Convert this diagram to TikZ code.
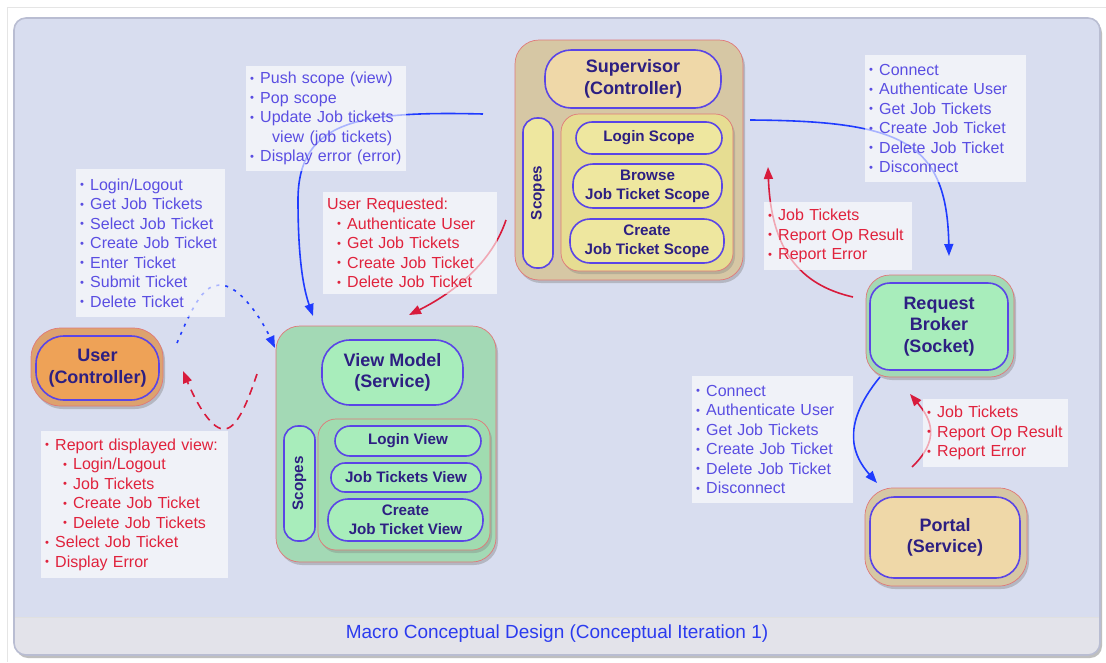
\documentclass[tikz,border=0pt]{standalone}
\usepackage{fontspec}
\usepackage{graphicx}
\setmainfont{Liberation Sans}
\usetikzlibrary{shadows,arrows.meta}

\definecolor{pagebg}{HTML}{D8DDEF}
\definecolor{bandbg}{HTML}{E3E3EA}
\definecolor{framec}{HTML}{B9BDD2}
\definecolor{tanout}{HTML}{D6C7A4}
\definecolor{tanin}{HTML}{EFD8A8}
\definecolor{yelbox}{HTML}{E6DD92}
\definecolor{yelpill}{HTML}{EEE79F}
\definecolor{grnout}{HTML}{A3D9B5}
\definecolor{grnin}{HTML}{A8EDBB}
\definecolor{grnbox}{HTML}{A0DCB0}
\definecolor{orgout}{HTML}{DDA26E}
\definecolor{orgin}{HTML}{EEA257}
\definecolor{bred}{HTML}{E07878}
\definecolor{bblue}{HTML}{5A45E6}
\definecolor{navy}{HTML}{2D1F82}
\definecolor{lblue}{HTML}{5A4EE2}
\definecolor{lred}{HTML}{E0223C}
\definecolor{arblue}{HTML}{1F3BFF}
\definecolor{arred}{HTML}{D81B3C}
\definecolor{capblue}{HTML}{2B3BEF}

\newcommand\nodefnt{\bfseries\fontsize{18}{21.5}\selectfont}
\newcommand\subfnt{\bfseries\fontsize{15.2}{19}\selectfont}
\newcommand\labfnt{\fontsize{16}{19.5}\selectfont\hyphenpenalty=10000}
\newcommand\bl{\makebox[10pt][l]{\raisebox{0.1em}{\scalebox{0.7}{•}}}}

\tikzset{
  outerbox/.style={draw=bred, line width=0.7pt, inner sep=0pt,
    drop shadow={opacity=0.4, shadow xshift=2pt, shadow yshift=-3pt}},
  container/.style={draw=bred, line width=0.7pt, inner sep=0pt,
    drop shadow={opacity=0.35, shadow xshift=2pt, shadow yshift=-3pt}},
  pill/.style={draw=bblue, line width=1.6pt, inner sep=0pt, align=center,
    text=navy, font=\nodefnt},
  subpill/.style={pill, font=\subfnt},
  lab/.style={fill=white, fill opacity=0.62, text opacity=1, inner xsep=4pt,
    inner ysep=2pt, align=left, font=\labfnt, anchor=north west},
  bluelab/.style={lab, text=lblue},
  redlab/.style={lab, text=lred},
  conn/.style={line width=1.6pt, -{Triangle[length=12pt,width=9pt]}},
  bconn/.style={conn, draw=arblue},
  rconn/.style={conn, draw=arred}
}

\begin{document}
\begin{tikzpicture}[x=1pt,y=-1pt]
\useasboundingbox (0,0) rectangle (1106,662);
\fill[white] (0,0) rectangle (1106,662);
\draw[black!10, line width=0.8pt] (7,662) -- (7,7) -- (1106,7);

% main frame with caption band
\fill[rounded corners=12pt, black!25] (16,21) rectangle (1102,658);
\fill[rounded corners=12pt, pagebg] (14,18) rectangle (1100,655);
\begin{scope}
  \clip[rounded corners=12pt] (14,18) rectangle (1100,655);
  \fill[bandbg] (14,617) rectangle (1100,655);
  \draw[black!12, line width=0.8pt] (14,617) -- (1100,617);
\end{scope}
\draw[rounded corners=12pt, framec, line width=1.6pt] (14,18) rectangle (1100,655);
\node[text=capblue, font=\fontsize{19}{22}\selectfont] (caption) at (557,634)
  {Macro Conceptual Design (Conceptual Iteration 1)};

% Supervisor
\node[outerbox, fill=tanout, rounded corners=24pt, minimum width=228pt, minimum height=240pt] (supo) at (629,160) {};
\node[pill, fill=tanin, rounded corners=26pt, minimum width=176pt, minimum height=58pt] (sup) at (633,79) {Supervisor\\(Controller)};
\node[subpill, fill=yelpill, rounded corners=14pt, rotate=90, minimum width=150pt, minimum height=30pt] (supscopes) at (538,193) {Scopes};
\node[container, fill=yelbox, rounded corners=18pt, minimum width=172pt, minimum height=157pt] (supbox) at (647,192.5) {};
\node[subpill, fill=yelpill, rounded corners=16pt, minimum width=146pt, minimum height=32pt] (loginscope) at (649,138) {Login Scope};
\node[subpill, fill=yelpill, rounded corners=20pt, minimum width=149pt, minimum height=44pt] (browsescope) at (647.5,186) {Browse\\Job Ticket Scope};
\node[subpill, fill=yelpill, rounded corners=20pt, minimum width=154pt, minimum height=44pt] (createscope) at (647,241) {Create\\Job Ticket Scope};

% View Model
\node[outerbox, fill=grnout, rounded corners=24pt, minimum width=220pt, minimum height=236pt] (vmo) at (386,444) {};
\node[pill, fill=grnin, rounded corners=28pt, minimum width=141pt, minimum height=65pt] (vm) at (392.5,372.5) {View Model\\(Service)};
\node[subpill, fill=grnin, rounded corners=14pt, rotate=90, minimum width=115pt, minimum height=31pt] (vmscopes) at (299.5,483.5) {Scopes};
\node[container, fill=grnbox, rounded corners=18pt, minimum width=172pt, minimum height=131pt] (vmbox) at (404,484.5) {};
\node[subpill, fill=grnin, rounded corners=15pt, minimum width=146pt, minimum height=30pt] (loginview) at (408,441) {Login View};
\node[subpill, fill=grnin, rounded corners=14pt, minimum width=150pt, minimum height=29pt] (jtview) at (406,477.5) {Job Tickets View};
\node[subpill, fill=grnin, rounded corners=20pt, minimum width=155pt, minimum height=42pt] (cjtview) at (405.5,520) {Create\\Job Ticket View};

% User
\node[outerbox, fill=orgout, rounded corners=30pt, minimum width=132pt, minimum height=78pt] (usero) at (97,367) {};
\node[pill, fill=orgin, rounded corners=28pt, minimum width=123pt, minimum height=64pt] (user) at (97.5,368) {User\\(Controller)};

% Request Broker
\node[outerbox, fill=grnout, rounded corners=24pt, minimum width=148pt, minimum height=102pt] (rbo) at (940,326) {};
\node[pill, fill=grnin, rounded corners=20pt, minimum width=138pt, minimum height=87pt] (rb) at (939,326.5) {Request\\Broker\\(Socket)};

% Portal
\node[outerbox, fill=tanout, rounded corners=28pt, minimum width=162pt, minimum height=98pt] (portalo) at (946,537) {};
\node[pill, fill=tanin, rounded corners=24pt, minimum width=150pt, minimum height=81pt] (portal) at (945,537.5) {Portal\\(Service)};

% connector end points
\coordinate (supW) at (483,114);
\coordinate (vmN) at (313,316);
\coordinate (supSW) at (506,220);
\coordinate (vmNE) at (409,315);
\coordinate (userNE) at (177,343);
\coordinate (vmNW) at (275,348);
\coordinate (vmW) at (257,374);
\coordinate (userE) at (183,371);
\coordinate (supE) at (750,120);
\coordinate (rbN) at (949,256);
\coordinate (rbW) at (853,297);
\coordinate (supSE) at (768,167);
\coordinate (rbS) at (880,377);
\coordinate (portalN) at (877,483);
\coordinate (portalNE) at (912,467);
\coordinate (rbSE) at (910,394);

% connectors
\draw[bconn] (supW) .. controls (360,111) and (298,120) .. (298,200)
  .. controls (298,262) and (304,290) .. (vmN);
\draw[rconn] (supSW) .. controls (492,262) and (455,292) .. (vmNE);
\draw[bconn, dash pattern=on 3pt off 6pt] (userNE) .. controls (195,300) and (205,285) .. (220,285)
  .. controls (240,285) and (262,320) .. (vmNW);
\draw[rconn, dash pattern=on 8pt off 6pt] (vmW) .. controls (245,410) and (235,430) .. (223,429)
  .. controls (210,428) and (195,400) .. (userE);
\draw[bconn] (supE) .. controls (900,121) and (947,140) .. (rbN);
\draw[rconn] (rbW) .. controls (800,285) and (771,250) .. (supSE);
\draw[bconn] (rbS) .. controls (838,428) and (855,458) .. (portalN);
\draw[rconn] (portalNE) .. controls (940,440) and (932,420) .. (rbSE);

% message lists
\node[bluelab, text width=152pt, minimum height=105pt] (l1) at (246,66)
  {\bl Push scope (view)\\ \bl Pop scope\\ \bl Update Job tickets\\ \hspace*{22pt}view (job tickets)\\ \bl Display error (error)};
\node[bluelab, text width=141pt, minimum height=148pt] (l2) at (76,169)
  {\bl Login/Logout\\ \bl Get Job Tickets\\ \bl Select Job Ticket\\ \bl Create Job Ticket\\ \bl Enter Ticket\\ \bl Submit Ticket\\ \bl Delete Ticket};
\node[redlab, text width=166pt, minimum height=102pt] (l3) at (323,192)
  {User Requested:\\ \hspace*{10pt}\bl Authenticate User\\ \hspace*{10pt}\bl Get Job Tickets\\ \hspace*{10pt}\bl Create Job Ticket\\ \hspace*{10pt}\bl Delete Job Ticket};
\node[bluelab, text width=153pt, minimum height=127pt] (l4) at (865,55)
  {\bl Connect\\ \bl Authenticate User\\ \bl Get Job Tickets\\ \bl Create Job Ticket\\ \bl Delete Job Ticket\\ \bl Disconnect};
\node[redlab, text width=140pt, minimum height=68pt] (l5) at (764,202)
  {\bl Job Tickets\\ \bl Report Op Result\\ \bl Report Error};
\node[redlab, text width=179pt, minimum height=147pt] (l6) at (41,431)
  {\bl Report displayed view:\\ \hspace*{18pt}\bl Login/Logout\\ \hspace*{18pt}\bl Job Tickets\\ \hspace*{18pt}\bl Create Job Ticket\\ \hspace*{18pt}\bl Delete Job Tickets\\ \bl Select Job Ticket\\ \bl Display Error};
\node[bluelab, text width=153pt, minimum height=127pt] (l7) at (692,376)
  {\bl Connect\\ \bl Authenticate User\\ \bl Get Job Tickets\\ \bl Create Job Ticket\\ \bl Delete Job Ticket\\ \bl Disconnect};
\node[redlab, text width=137pt, minimum height=68pt] (l8) at (923,399)
  {\bl Job Tickets\\ \bl Report Op Result\\ \bl Report Error};
\end{tikzpicture}
\end{document}
